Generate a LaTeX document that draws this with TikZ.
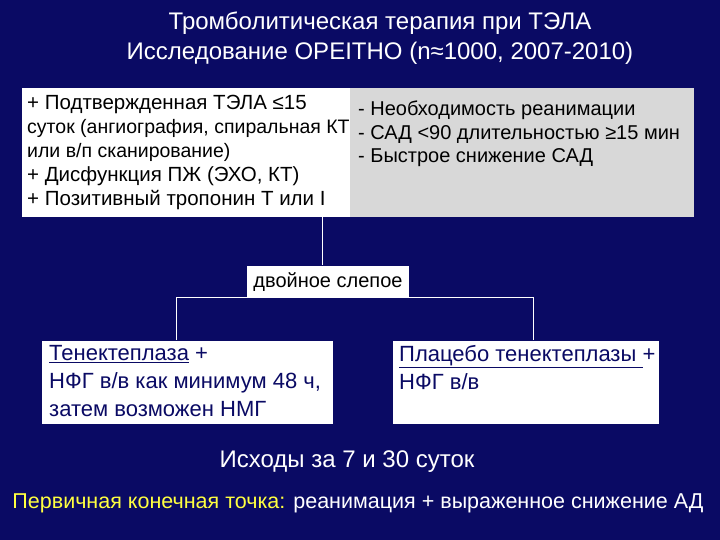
\documentclass[tikz,border=0pt]{standalone}
\usepackage{fontspec}
\setmainfont{Liberation Sans}
\definecolor{bg}{HTML}{0A0A64}
\definecolor{dblue}{HTML}{0A0A64}
\definecolor{gry}{HTML}{D8D8D8}
\definecolor{yel}{HTML}{FFFF40}
\begin{document}
\begin{tikzpicture}[x=1pt,y=-1pt,
  txt/.style={text=white,inner sep=0pt},
  conn/.style={white,line width=1pt}]
\fill[bg] (0,0) rectangle (720,540);
\useasboundingbox (0,0) rectangle (720,540);
\node[txt,align=center,font=\fontsize{24}{30}\selectfont] (title) at (380,38) {Тромболитическая терапия при ТЭЛА\\Исследование OPEITHO (n≈1000, 2007-2010)};
\fill[white] (22,88) rectangle (350,217);
\fill[gry] (350,88) rectangle (694,217);
\node[inner sep=0pt,anchor=north west,align=left,text=black,font=\fontsize{20.5}{24}\selectfont] (tl) at (27,95) {+ Подтвержденная ТЭЛА ≤15\\
{\fontsize{19.5}{24}\selectfont суток (ангиография, спиральная КТ}\\
{\fontsize{19.5}{24}\selectfont или в/п сканирование)}\\
+ Дисфункция ПЖ (ЭХО, КТ)\\
+ Позитивный тропонин Т или I};
\node[inner sep=0pt,anchor=north west,align=left,text=black,font=\fontsize{20}{23.5}\selectfont] (tr) at (358,101) {- Необходимость реанимации\\- САД <90 длительностью ≥15 мин\\- Быстрое снижение САД};
\coordinate (top) at (322,217);
\node[fill=white,draw=dblue,minimum width=163pt,minimum height=33pt,inner sep=0pt,font=\fontsize{20}{22}\selectfont,text=black] (blind) at (328,282) {двойное слепое};
\draw[conn] (top) -- (blind.north -| top);
\draw[dblue,line width=1.5pt,fill=white] (41,340) rectangle (334,425);
\draw[dblue,line width=1.5pt,fill=white] (392,340) rectangle (660,425);
\node[inner sep=0pt,anchor=north west,align=left,text=dblue,font=\fontsize{22}{28}\selectfont] (L) at (49,345) {\underline{Тенектеплаза} +\\НФГ в/в как минимум 48 ч,\\затем возможен НМГ};
\node[inner sep=0pt,anchor=north west,align=left,text=dblue,font=\fontsize{22}{28}\selectfont] (R) at (399,345) {\underline{Плацебо тенектеплазы }+\\НФГ в/в};
\coordinate (hl) at (176,297);
\coordinate (hr) at (533,297);
\coordinate (lt) at (176,340);
\coordinate (rt) at (533,340);
\draw[conn] (lt) -- (hl) -- (hr) -- (rt);
\node[txt,font=\fontsize{24}{26}\selectfont] (out) at (347,462) {Исходы за 7 и 30 суток};
\node[txt,font=\fontsize{21.5}{26}\selectfont] (prim) at (358,503) {\textcolor{yel}{Первичная конечная точка:} реанимация + выраженное снижение АД};
\end{tikzpicture}
\end{document}
